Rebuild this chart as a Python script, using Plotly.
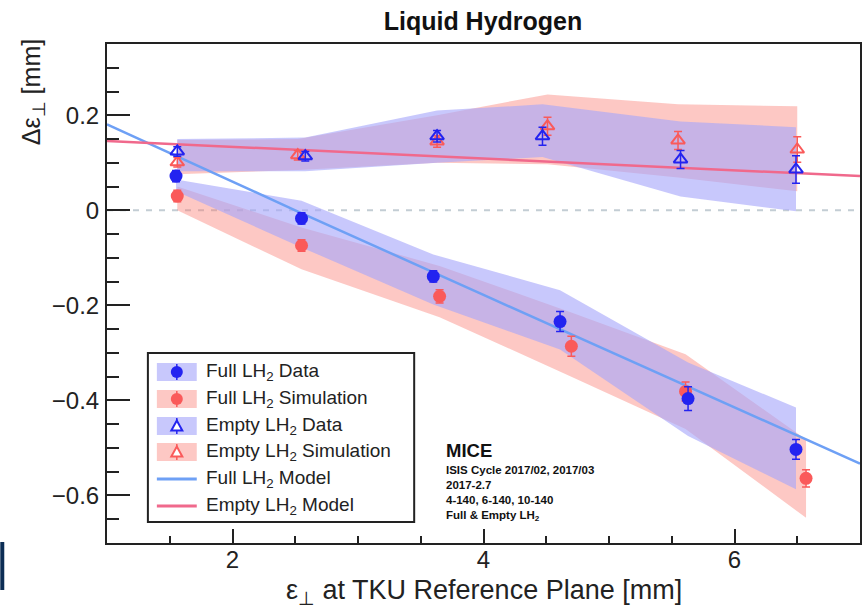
import plotly.graph_objects as go

# ---------------- data ----------------
full_data_x = [1.55, 2.55, 3.60, 4.61, 5.63, 6.49]
full_data_y = [0.072, -0.017, -0.139, -0.234, -0.396, -0.503]
full_data_err = [0.012, 0.012, 0.012, 0.021, 0.025, 0.021]

full_sim_x = [1.56, 2.55, 3.65, 4.70, 5.61, 6.57]
full_sim_y = [0.030, -0.074, -0.181, -0.286, -0.381, -0.564]
full_sim_err = [0.012, 0.012, 0.014, 0.021, 0.020, 0.018]

empty_data_x = [1.56, 2.58, 3.63, 4.47, 5.57, 6.49]
empty_data_y = [0.124, 0.114, 0.156, 0.156, 0.107, 0.086]
empty_data_err = [0.010, 0.010, 0.012, 0.019, 0.019, 0.029]

empty_sim_x = [1.56, 2.52, 3.63, 4.51, 5.55, 6.50]
empty_sim_y = [0.101, 0.116, 0.145, 0.177, 0.147, 0.128]
empty_sim_err = [0.010, 0.010, 0.012, 0.019, 0.019, 0.027]

# systematic bands
full_data_band_hi = [0.065, 0.020, -0.093, -0.168, -0.320, -0.415]
full_data_band_lo = [0.040, -0.078, -0.198, -0.293, -0.475, -0.587]
full_sim_band_hi = [0.050, -0.036, -0.117, -0.215, -0.303, -0.482]
full_sim_band_lo = [0.000, -0.124, -0.225, -0.350, -0.460, -0.647]
empty_data_band_hi = [0.150, 0.153, 0.210, 0.223, 0.187, 0.175]
empty_data_band_lo = [0.082, 0.082, 0.100, 0.112, 0.029, -0.002]
empty_sim_band_hi = [0.148, 0.150, 0.200, 0.244, 0.223, 0.219]
empty_sim_band_lo = [0.076, 0.085, 0.100, 0.097, 0.069, 0.040]

# model lines
full_model_x = [1.0, 2.5, 4.0, 5.5, 7.0]
full_model_y = [0.181, 0.0, -0.178, -0.356, -0.533]
empty_model_x = [1.0, 4.0, 7.0]
empty_model_y = [0.146, 0.109, 0.072]

legend_labels = ["Full LH<sub>2</sub> Data", "Full LH<sub>2</sub> Simulation",
                 "Empty LH<sub>2</sub> Data", "Empty LH<sub>2</sub> Simulation",
                 "Full LH<sub>2</sub> Model", "Empty LH<sub>2</sub> Model"]
mice_lines = ["ISIS Cycle 2017/02, 2017/03", "2017-2.7", "4-140, 6-140, 10-140",
              "Full &amp; Empty LH<sub>2</sub>"]

# ---------------- styles ----------------
BLUE = "rgb(35,35,240)"
RED = "rgb(250,90,90)"
BLUE_BAND = "rgba(166,166,250,0.62)"
RED_BAND = "rgba(250,117,107,0.40)"
BLUE_MODEL = "rgb(110,160,245)"
PINK_MODEL = "rgb(240,105,140)"
FONT = "Liberation Sans, Arial, Helvetica, sans-serif"

W, H = 864, 608
ML, MR, MT, MB = 107, 2, 44, 65
PW, PH = W - ML - MR, H - MT - MB


def px(xp):
    return (xp - ML) / PW


def py(yp):
    return (H - MB - yp) / PH


fig = go.Figure()


def band(x, hi, lo, color):
    fig.add_trace(go.Scatter(
        x=list(x) + list(x)[::-1], y=list(hi) + list(lo)[::-1],
        mode="lines", fill="toself", fillcolor=color,
        line=dict(width=0), hoverinfo="skip", showlegend=False))


band(full_sim_x, full_sim_band_hi, full_sim_band_lo, RED_BAND)
band(empty_sim_x, empty_sim_band_hi, empty_sim_band_lo, RED_BAND)
band(full_data_x, full_data_band_hi, full_data_band_lo, BLUE_BAND)
band(empty_data_x, empty_data_band_hi, empty_data_band_lo, BLUE_BAND)

fig.add_trace(go.Scatter(x=full_model_x, y=full_model_y, mode="lines",
                         line=dict(color=BLUE_MODEL, width=2.5), showlegend=False))
fig.add_trace(go.Scatter(x=empty_model_x, y=empty_model_y, mode="lines",
                         line=dict(color=PINK_MODEL, width=2.5), showlegend=False))


def pts(x, y, err, color, symbol, lw, size):
    fig.add_trace(go.Scatter(
        x=x, y=y, mode="markers",
        error_y=dict(type="data", array=err, color=color, thickness=1.5, width=4),
        marker=dict(color=color, size=size, symbol=symbol,
                    line=dict(color=color, width=lw)),
        showlegend=False))


pts(full_sim_x, full_sim_y, full_sim_err, RED, "circle", 0, 13)
pts(full_data_x, full_data_y, full_data_err, BLUE, "circle", 0, 13)
pts(empty_sim_x, empty_sim_y, empty_sim_err, RED, "triangle-up-open", 2, 12)
pts(empty_data_x, empty_data_y, empty_data_err, BLUE, "triangle-up-open", 2, 12)

shapes = []
annotations = []

# dashed zero line
shapes.append(dict(type="line", xref="paper", yref="y", x0=0, x1=1, y0=0, y1=0,
                   line=dict(color="rgb(195,205,212)", width=2, dash="6px,7px"),
                   layer="below"))

# ---------------- manual legend ----------------
shapes.append(dict(type="rect", xref="paper", yref="paper",
                   x0=px(148), x1=px(415), y0=py(522), y1=py(353),
                   line=dict(color="#222", width=2), fillcolor="white", layer="above"))
rows = [372, 399, 426, 452, 479, 506]
box_cols = [BLUE_BAND, RED_BAND, BLUE_BAND, RED_BAND]
mk_cols = [BLUE, RED, BLUE, RED]
for i, yy in enumerate(rows):
    if i < 4:
        shapes.append(dict(type="rect", xref="paper", yref="paper",
                           x0=px(157), x1=px(197), y0=py(yy + 9), y1=py(yy - 9),
                           line=dict(width=0), fillcolor=box_cols[i], layer="above"))
        shapes.append(dict(type="line", xref="paper", yref="paper",
                           x0=px(177), x1=px(177), y0=py(yy + 8), y1=py(yy - 8),
                           line=dict(color=mk_cols[i], width=1.5), layer="above"))
        if i < 2:
            shapes.append(dict(type="circle", xref="paper", yref="paper",
                               xsizemode="pixel", ysizemode="pixel",
                               xanchor=px(177), yanchor=py(yy),
                               x0=-6, x1=6, y0=-6, y1=6,
                               fillcolor=mk_cols[i], line=dict(width=0), layer="above"))
        else:
            shapes.append(dict(type="path", xref="paper", yref="paper",
                               xsizemode="pixel", ysizemode="pixel",
                               xanchor=px(177), yanchor=py(yy),
                               path="M -5.5,-4.5 L 5.5,-4.5 L 0,5.5 Z",
                               fillcolor="white", line=dict(color=mk_cols[i], width=2),
                               layer="above"))
    else:
        col = BLUE_MODEL if i == 4 else PINK_MODEL
        shapes.append(dict(type="line", xref="paper", yref="paper",
                           x0=px(157), x1=px(197), y0=py(yy), y1=py(yy),
                           line=dict(color=col, width=3), layer="above"))
    annotations.append(dict(text=legend_labels[i], xref="paper", yref="paper",
                            x=px(204), y=py(yy), xanchor="left", yanchor="middle",
                            showarrow=False, font=dict(size=19, color="#222", family=FONT)))

# MICE label
annotations.append(dict(text="<b>MICE</b>", xref="paper", yref="paper",
                        x=px(446), y=py(450), xanchor="left", yanchor="middle",
                        borderpad=0,
                        showarrow=False, font=dict(size=18.5, color="#111", family=FONT)))
annotations.append(dict(text="<b>" + "<br>".join(mice_lines) + "</b>",
                        xref="paper", yref="paper", x=px(446), y=py(493),
                        xanchor="left", yanchor="middle", align="left", borderpad=0,
                        showarrow=False, font=dict(size=11.5, color="#111", family=FONT)))

# axis titles
annotations.append(dict(text="Δε<sub>⊥</sub> [mm]", xref="paper", yref="paper",
                        x=px(33), y=py(92), textangle=-90, xanchor="center", yanchor="middle",
                        showarrow=False, font=dict(size=25, color="#222", family=FONT)))
annotations.append(dict(text="ε<sub>⊥</sub> at TKU Reference Plane [mm]", xref="paper", yref="paper",
                        x=px(485), y=py(592), xanchor="center", yanchor="middle",
                        showarrow=False, font=dict(size=27, color="#222", family=FONT)))

# stray logo fragment at the left edge
shapes.append(dict(type="rect", xref="paper", yref="paper",
                   x0=px(0), x1=px(4), y0=py(590), y1=py(542),
                   fillcolor="rgb(12,45,85)", line=dict(width=0)))

fig.update_layout(
    width=W, height=H,
    margin=dict(l=ML, r=MR, t=MT, b=MB),
    paper_bgcolor="white", plot_bgcolor="white",
    showlegend=False,
    font=dict(family=FONT, color="#222"),
    title=dict(text="<b>Liquid Hydrogen</b>", x=px(484), xref="paper", xanchor="center",
               y=1 - 21 / H, yanchor="middle", font=dict(size=25, color="#111", family=FONT)),
    shapes=shapes, annotations=annotations,
    xaxis=dict(range=[1, 7], tick0=0, dtick=2, ticks="inside", ticklen=14, tickwidth=2,
               tickcolor="#222", showline=True, mirror=True, linewidth=2, linecolor="#222",
               showgrid=False, zeroline=False, tickfont=dict(size=24, color="#222"),
               minor=dict(dtick=0.5, ticks="inside", ticklen=7, tickwidth=1.5, tickcolor="#222"),
               ticklabelstandoff=-6),
    yaxis=dict(range=[-0.7, 0.35], tick0=0, dtick=0.2, ticks="inside", ticklen=23, tickwidth=2,
               tickcolor="#222", showline=True, mirror=True, linewidth=2, linecolor="#222",
               showgrid=False, zeroline=False, tickfont=dict(size=24, color="#222"),
               minor=dict(dtick=0.05, ticks="inside", ticklen=12, tickwidth=1.5, tickcolor="#222"),
               ticklabelstandoff=1),
)

fig.write_html("out.html")
